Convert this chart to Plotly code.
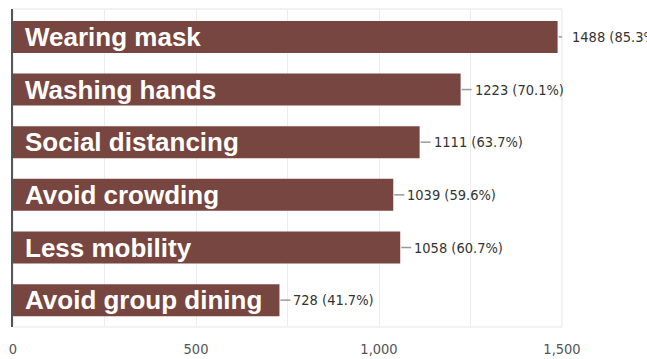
import plotly.graph_objects as go

categories = ["Wearing mask", "Washing hands", "Social distancing",
              "Avoid crowding", "Less mobility", "Avoid group dining"]
counts = [1488, 1223, 1111, 1039, 1058, 728]
percents = ["85.3%", "70.1%", "63.7%", "59.6%", "60.7%", "41.7%"]
tick_values = [0, 500, 1000, 1500]
tick_labels = ["0", "500", "1,000", "1,500"]

BAR = "#774640"
NARROW = "DejaVu Sans Condensed, DejaVu Sans, sans-serif"
BOLD = "Liberation Sans, Arial, sans-serif"
COND = '<span style="font-stretch:condensed">%s</span>'

fig = go.Figure()
fig.add_trace(go.Bar(
    x=counts, y=categories, orientation="h",
    marker=dict(color=BAR, line=dict(width=0)),
    width=0.607,
    hoverinfo="skip",
))

annotations = []
shapes = []
for cat, c, p in zip(categories, counts, percents):
    annotations.append(dict(
        x=0, y=cat, xref="x", yref="y", xanchor="left", yanchor="middle",
        xshift=10, yshift=0, showarrow=False, text="<b>%s</b>" % cat,
        font=dict(family=BOLD, size=26, color="white"),
    ))
    annotations.append(dict(
        x=c, y=cat, xref="x", yref="y", xanchor="left", yanchor="middle",
        xshift=12, showarrow=False, text=COND % ("%d (%s)" % (c, p)),
        font=dict(family=NARROW, size=14.5, color="#333333"),
    ))
    shapes.append(dict(
        type="line", xref="x", yref="y", xsizemode="pixel", xanchor=c,
        x0=1, x1=11, y0=cat, y1=cat,
        line=dict(color="#9a9a9a", width=1.5), layer="above",
    ))

shapes.append(dict(type="rect", xref="paper", yref="paper", x0=0, x1=1, y0=0, y1=1,
                   line=dict(color="#e6e6e6", width=1), layer="below"))

fig.update_layout(
    width=647, height=359,
    margin=dict(l=13, r=85, t=9, b=32),
    plot_bgcolor="white", paper_bgcolor="white",
    showlegend=False,
    annotations=annotations, shapes=shapes,
    xaxis=dict(
        range=[0, 1500], tickmode="array", tickvals=tick_values,
        ticktext=[COND % t for t in tick_labels],
        showgrid=True, gridcolor="#ececec", gridwidth=1,
        minor=dict(dtick=250, tick0=0, showgrid=True, gridcolor="#ececec", gridwidth=1),
        zeroline=False, showline=False, automargin=False,
        tickfont=dict(family=NARROW, size=14.5, color="#555555"),
        ticks="", ticklabelstandoff=11,
    ),
    yaxis=dict(
        range=[5.51, -0.53], showticklabels=False, showgrid=False,
        zeroline=False, showline=True, linecolor="#555555", linewidth=1.5,
        ticks="", automargin=False,
    ),
)

fig.write_html("out.html")
